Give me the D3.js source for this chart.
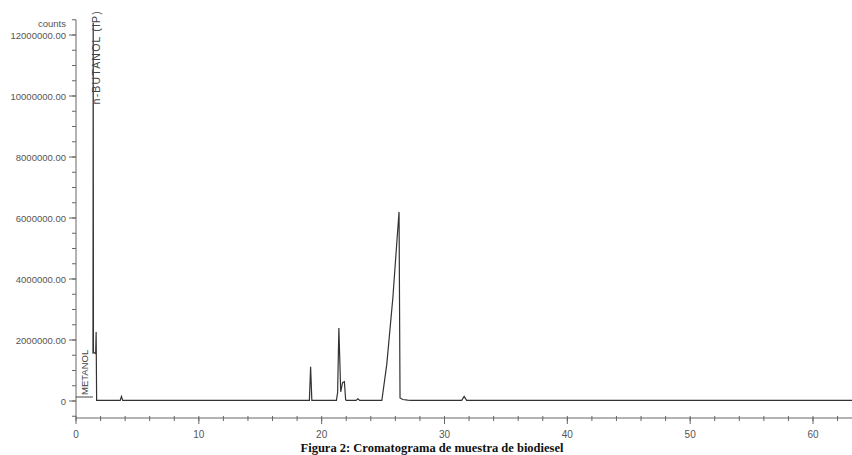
<!DOCTYPE html>
<html lang="es">
<head>
    <meta charset="UTF-8">
    <title>Cromatograma de muestra de biodiesel</title>
    <script src="https://d3js.org/d3.v7.min.js"></script>
    <style>
        body { margin: 0; background: #fff; }
        svg { display: block; }
    </style>
</head>
<body>
    <script>
        // tiempo de retención (min) y cuentas
        let tiempo = [1.38, 1.40, 1.42, 1.60, 1.64, 1.68, 3.6, 3.7, 3.8,
                      19.0, 19.1, 19.2, 21.2, 21.3, 21.4, 21.55, 21.7, 21.85, 21.95, 22.0,
                      22.8, 22.95, 23.1, 24.9, 25.3, 25.8, 26.1, 26.3, 26.38, 26.6, 27.0, 27.3,
                      31.4, 31.6, 31.8, 63.6];
        let cuentas = [1550000, 12400000, 1600000, 1550000, 2260000, 20000, 20000, 150000, 20000,
                       20000, 1120000, 20000, 20000, 280000, 2390000, 300000, 600000, 630000, 50000, 20000,
                       20000, 70000, 20000, 20000, 1200000, 3400000, 5100000, 6200000, 100000, 50000, 30000, 20000,
                       20000, 150000, 20000, 20000];

        let yTicks = [0, 2000000, 4000000, 6000000, 8000000, 10000000, 12000000];
        let xTicks = [0, 10, 20, 30, 40, 50, 60];
        let etiquetas = ["n-BUTANOL (IP)", "METANOL"];

        let W = 852, H = 455;
        let svg = d3.select("body").append("svg")
                    .attr("width", W)
                    .attr("height", H);

        /* escalas: 0 -> x 76, 60 -> x 813 ; 0 -> y 401, 12M -> y 35 */
        let x = d3.scaleLinear().domain([0, 60]).range([76, 813]);
        let y = d3.scaleLinear().domain([0, 12000000]).range([401, 35]);
        let xMax = x.invert(W);
        let yTop = 12500000, yBot = -570000;

        let gris = "#666";
        let fuente = "Arial, 'Liberation Sans', sans-serif";

        // eje Y
        svg.append("line")
           .attr("x1", x(0)).attr("x2", x(0))
           .attr("y1", y(yTop)).attr("y2", y(yBot))
           .attr("stroke", gris);

        let yMinor = d3.range(-500000, yTop + 1, 500000);
        svg.selectAll(".ymin").data(yMinor).enter().append("line")
           .attr("x1", x(0) - 4).attr("x2", x(0))
           .attr("y1", d => y(d)).attr("y2", d => y(d))
           .attr("stroke", gris);

        svg.selectAll(".ymaj").data(yTicks).enter().append("line")
           .attr("x1", x(0) - 7).attr("x2", x(0))
           .attr("y1", d => y(d)).attr("y2", d => y(d))
           .attr("stroke", gris);

        svg.selectAll(".ylab").data(yTicks).enter().append("text")
           .attr("x", x(0) - 10)
           .attr("y", d => y(d) + 3.5)
           .attr("text-anchor", "end")
           .attr("font-family", fuente)
           .attr("font-size", 9.5)
           .attr("fill", "#555")
           .text(d => d === 0 ? "0" : d + ".00");

        svg.append("text")
           .attr("x", x(0) - 10)
           .attr("y", 27)
           .attr("text-anchor", "end")
           .attr("font-family", fuente)
           .attr("font-size", 9.5)
           .attr("fill", "#555")
           .text("counts");

        // eje X
        let yAxisX = 418;
        svg.append("line")
           .attr("x1", x(0)).attr("x2", W)
           .attr("y1", yAxisX).attr("y2", yAxisX)
           .attr("stroke", gris);

        let xMinor = d3.range(0, xMax, 2);
        svg.selectAll(".xmin").data(xMinor).enter().append("line")
           .attr("x1", d => x(d)).attr("x2", d => x(d))
           .attr("y1", yAxisX - 2).attr("y2", yAxisX + 3)
           .attr("stroke", gris);

        svg.selectAll(".xmaj").data(xTicks).enter().append("line")
           .attr("x1", d => x(d)).attr("x2", d => x(d))
           .attr("y1", yAxisX).attr("y2", yAxisX + 6)
           .attr("stroke", gris);

        svg.selectAll(".xlab").data(xTicks).enter().append("text")
           .attr("x", d => x(d))
           .attr("y", yAxisX + 20)
           .attr("text-anchor", "middle")
           .attr("font-family", fuente)
           .attr("font-size", 10)
           .attr("fill", "#555")
           .text(d => d);

        // cromatograma
        let puntos = tiempo.map((t, i) => [t, cuentas[i]]);
        let linea = d3.line()
                      .x(d => x(d[0]))
                      .y(d => Math.max(y(d[1]), 22));
        svg.append("path")
           .datum(puntos)
           .attr("d", linea)
           .attr("fill", "none")
           .attr("stroke", "#333")
           .attr("stroke-width", 1.2);

        // etiquetas de picos (verticales, se leen de abajo hacia arriba)
        svg.append("text")
           .attr("transform", "translate(" + (x(1.40) + 7) + ",10) rotate(-90)")
           .attr("text-anchor", "end")
           .attr("font-family", fuente)
           .attr("font-size", 10.5)
           .attr("letter-spacing", 1.2)
           .attr("fill", "#444")
           .text(etiquetas[0]);

        svg.append("text")
           .attr("transform", "translate(" + (x(0.75) + 3) + ",395) rotate(-90)")
           .attr("font-family", fuente)
           .attr("font-size", 9.5)
           .attr("fill", "#444")
           .text(etiquetas[1]);

        svg.append("line")
           .attr("x1", x(0)).attr("x2", x(1.38))
           .attr("y1", 397).attr("y2", 397)
           .attr("stroke", "#444");

        // pie de figura
        svg.append("text")
           .attr("x", 432)
           .attr("y", 452)
           .attr("text-anchor", "middle")
           .attr("font-family", "'Liberation Serif', 'Times New Roman', serif")
           .attr("font-weight", "bold")
           .attr("font-size", 12.5)
           .attr("fill", "#111")
           .text("Figura 2: Cromatograma de muestra de biodiesel");
    </script>
</body>
</html>
